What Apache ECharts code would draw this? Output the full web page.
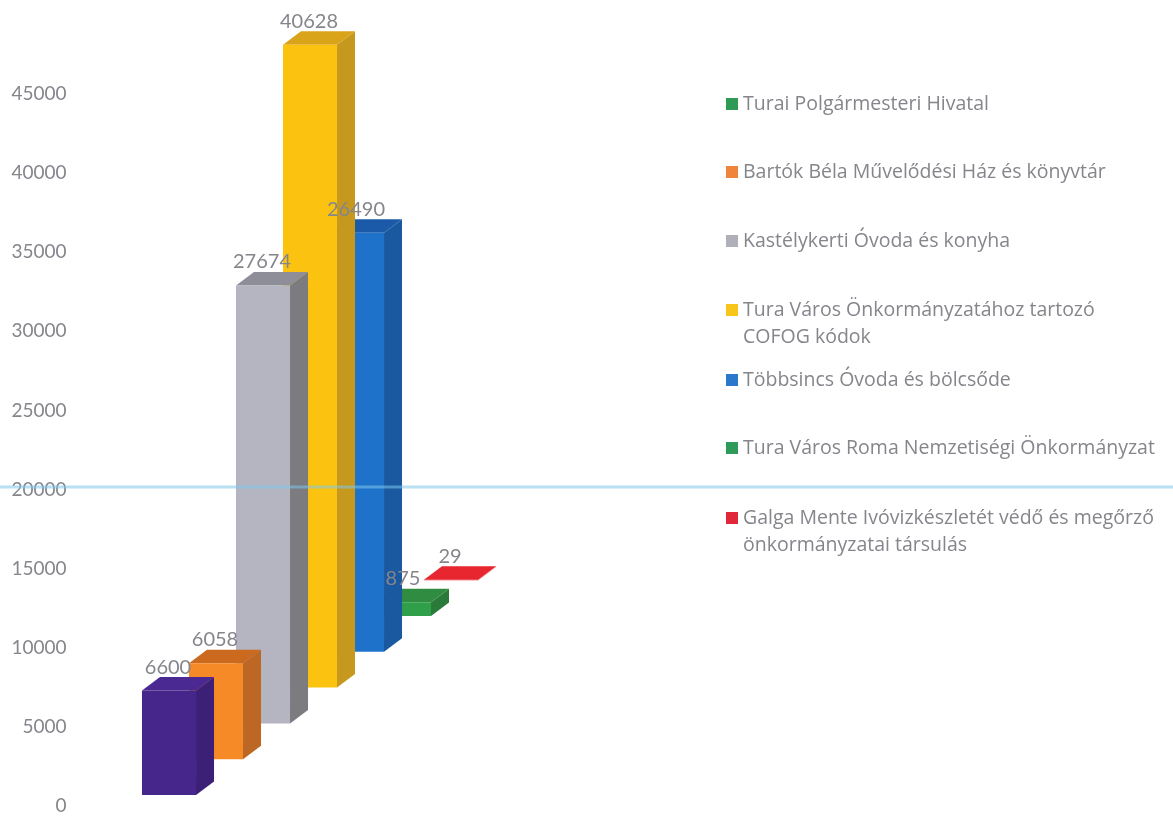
<!DOCTYPE html>
<html><head><meta charset="utf-8">
<style>html,body{margin:0;padding:0;background:#fff}#c{width:1173px;height:816px}</style>
<script src="https://cdn.jsdelivr.net/npm/echarts@6/dist/echarts.min.js"></script>
</head><body><div id="c"></div>
<script>
var names = [
  'Turai Polgármesteri Hivatal',
  'Bartók Béla Művelődési Ház és könyvtár',
  'Kastélykerti Óvoda és konyha',
  'Tura Város Önkormányzatához tartozó\nCOFOG kódok',
  'Többsincs Óvoda és bölcsőde',
  'Tura Város Roma Nemzetiségi Önkormányzat',
  'Galga Mente Ivóvizkészletét védő és megőrző\nönkormányzatai társulás'
];
var values = [6600, 6058, 27674, 40628, 26490, 875, 29];
var frontColors = ['#47268c', '#f58a26', '#b5b5c1', '#fbc30f', '#1f72c9', '#2f9f4a', '#e8262f'];
var topColors   = ['#4a2a92', '#cb6a1f', '#8e8e98', '#daa41a', '#1b5aa8', '#2f8c40', '#e8262f'];
var sideColors  = ['#3c2078', '#bd6724', '#7b7b80', '#c6981e', '#1a589f', '#2a7a3a', '#e8262f'];
var legendColors = ['#2f9a55', '#f0843a', '#b0b0ba', '#f8c51a', '#2a78cc', '#2f9a5a', '#e0283a'];
var legendCenters = [104, 172, 241, 310, 380, 448, 518];
var yTicks = {min: 0, max: 45000, interval: 5000};
var textColor = '#85858c';
var fontFam = 'Lato';
var legendFont = 'Open Sans';

var stepLift = 35.8, baseLift = 11, depthX = 18, depthY = 13.5;

function geom(api) {
  var i = api.value(0), v = api.value(1);
  var p = api.coord([i, v]), b = api.coord([i, 0]);
  var w = api.size([1, 0])[0] * 1.15;
  var lift = baseLift + stepLift * i;
  return {x0: p[0] - w / 2, x1: p[0] + w / 2, top: p[1] - lift, bot: b[1] - lift, cx: p[0]};
}
function barItem(params, api) {
  var g = geom(api), i = api.value(0);
  return {type: 'group', children: [
    {type: 'polygon', shape: {points: [[g.x1, g.top], [g.x1 + depthX, g.top - depthY], [g.x1 + depthX, g.bot - depthY], [g.x1, g.bot]]}, style: {fill: sideColors[i]}},
    {type: 'polygon', shape: {points: [[g.x0, g.top], [g.x0 + depthX, g.top - depthY], [g.x1 + depthX, g.top - depthY], [g.x1, g.top]]}, style: {fill: topColors[i]}},
    {type: 'rect', shape: {x: g.x0, y: g.top, width: g.x1 - g.x0, height: g.bot - g.top}, style: {fill: frontColors[i]}}
  ]};
}
function labelItem(params, api) {
  var g = geom(api);
  return {type: 'text', style: {text: String(api.value(1)), x: g.cx - 1, y: g.top - depthY - 10, align: 'center', verticalAlign: 'middle', fill: textColor, font: '20px ' + fontFam}};
}

var series = names.map(function (n, i) {
  return {name: n, type: 'custom', z: 10 - i, silent: true, renderItem: barItem, encode: {x: 0, y: 1}, itemStyle: {color: frontColors[i]}, data: [[i, values[i]]]};
});
series.push({name: 'labels', type: 'custom', z: 30, silent: true, renderItem: labelItem, encode: {x: 0, y: 1}, data: values.map(function (v, i) { return [i, v]; })});

var legends = names.map(function (n, i) {
  return {
    left: 726, top: legendCenters[i] - 10, padding: 0, orient: 'vertical', icon: 'rect', itemWidth: 12, itemHeight: 12,
    selectedMode: false,
    data: [{name: n, itemStyle: {color: legendColors[i]}}],
    formatter: function (x) { return x.split('\n')[0]; },
    textStyle: {color: textColor, fontSize: 19.5, fontFamily: legendFont, lineHeight: 20}
  };
});

var second = [];
names.forEach(function (n, i) {
  var parts = n.split('\n');
  if (parts[1]) second.push({type: 'text', left: 743, top: legendCenters[i] + 17, z: 20, style: {text: parts[1], fill: textColor, font: '19.5px "' + legendFont + '"'}});
});
second.push({type: 'rect', left: 0, top: 485.5, z: 40, silent: true, shape: {width: 1173, height: 3}, style: {fill: 'rgba(125,200,235,0.55)'}});

var chart = echarts.init(document.getElementById('c'));
chart.setOption({
  animation: false,
  backgroundColor: '#ffffff',
  legend: legends,
  graphic: {elements: second},
  grid: {left: 145.5, width: 329, top: 94, height: 712},
  xAxis: {type: 'category', show: false, data: names},
  yAxis: {type: 'value', min: yTicks.min, max: yTicks.max, interval: yTicks.interval,
    axisLine: {show: false}, axisTick: {show: false}, splitLine: {show: false},
    axisLabel: {color: textColor, fontSize: 19, fontFamily: fontFam, margin: 79, padding: [3, 0, 0, 0], formatter: function (v) { return String(v); }}},
  series: series
});
</script></body></html>
